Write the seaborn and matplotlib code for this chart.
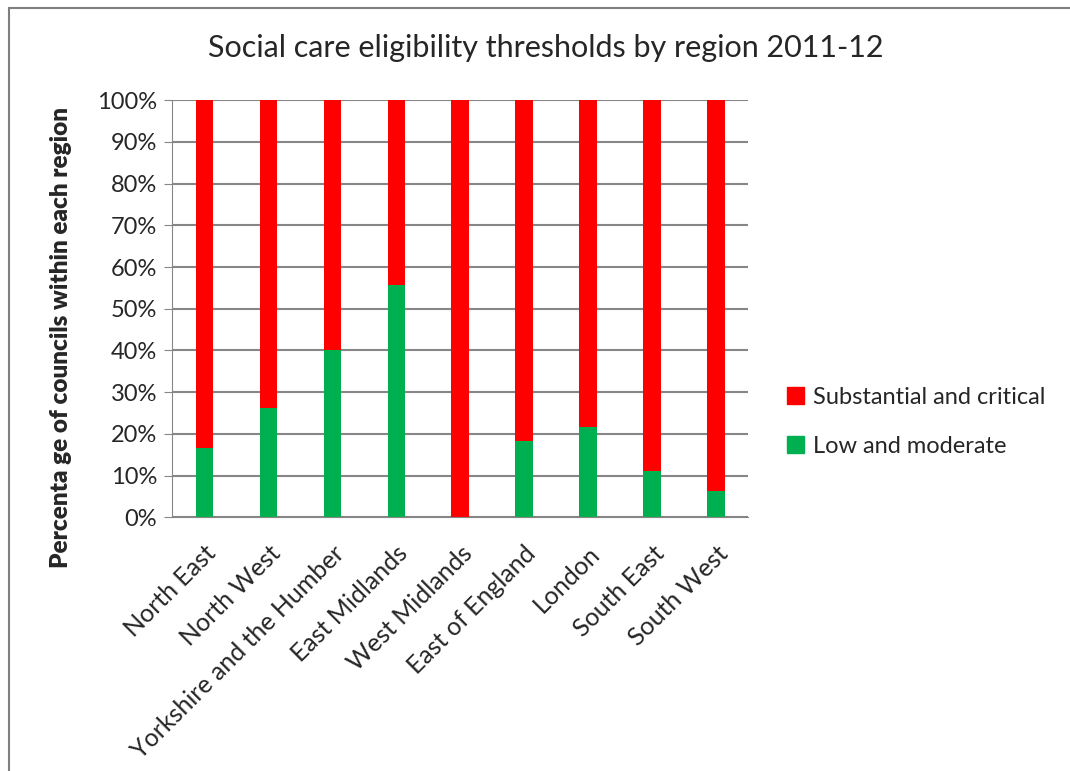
import matplotlib
matplotlib.use("Agg")
import matplotlib.pyplot as plt
import seaborn as sns
import pandas as pd
from matplotlib.patches import Patch, Rectangle
from matplotlib.ticker import PercentFormatter

regions = ["North East", "North West", "Yorkshire and the Humber", "East Midlands",
           "West Midlands", "East of England", "London", "South East", "South West"]
low_moderate = [16.7, 26.3, 40.0, 55.6, 0.0, 18.2, 21.6, 11.1, 6.3]
substantial_critical = [100 - v for v in low_moderate]

df = pd.DataFrame({"region": regions, "low": low_moderate, "subst": substantial_critical})
df["total"] = df["low"] + df["subst"]

red = "#FF0000"
green = "#00B050"
grid = "#868686"

sns.set_style("white")
plt.rcParams["font.family"] = ["Lato", "DejaVu Sans"]

fig = plt.figure(figsize=(10.7, 7.71), dpi=100)
ax = fig.add_axes([0.161, 0.329, 0.538, 0.541])

# red is the full stack, green drawn over it
sns.barplot(data=df, x="region", y="total", color=red, width=0.27, saturation=1,
            linewidth=0, ax=ax)
sns.barplot(data=df, x="region", y="low", color=green, width=0.27, saturation=1,
            linewidth=0, ax=ax)

ax.set_ylim(0, 100)
ax.set_xlim(-0.5, len(regions) - 0.5)
ax.set_yticks(range(0, 101, 10))
ax.yaxis.set_major_formatter(PercentFormatter(decimals=0))
ax.yaxis.grid(True, color=grid, linewidth=1.5)
ax.set_axisbelow(True)
for s in ["top", "right"]:
    ax.spines[s].set_visible(False)
ax.spines["left"].set_color(grid)
ax.spines["bottom"].set_color(grid)
ax.tick_params(axis="y", left=True, length=6, color=grid, labelsize=17, pad=5)
ax.tick_params(axis="x", bottom=False, labelsize=18, pad=14)
plt.setp(ax.get_xticklabels(), rotation=45, ha="right", rotation_mode="anchor")
ax.set_xlabel("")
ax.set_ylabel("Percenta ge of councils within each region", fontsize=17.5,
              fontweight="heavy", va="center")
ax.yaxis.set_label_coords(-0.194, 0.43)

fig.text(0.51, 0.938, "Social care eligibility thresholds by region 2011-12",
         ha="center", va="center", fontsize=22)

handles = [Patch(color=red, label="Substantial and critical"),
           Patch(color=green, label="Low and moderate")]
fig.legend(handles=handles, loc="center left", bbox_to_anchor=(0.716, 0.453),
           frameon=False, fontsize=17, handlelength=0.7, handleheight=0.7,
           handletextpad=0.4, labelspacing=1.2)

# outer chart border
fig.add_artist(Rectangle((0.008, -0.05), 1.1, 1.04, transform=fig.transFigure,
                         fill=False, edgecolor="#7f7f7f", linewidth=1.5))

fig.savefig("out.png", dpi=100)
plt.close(fig)
